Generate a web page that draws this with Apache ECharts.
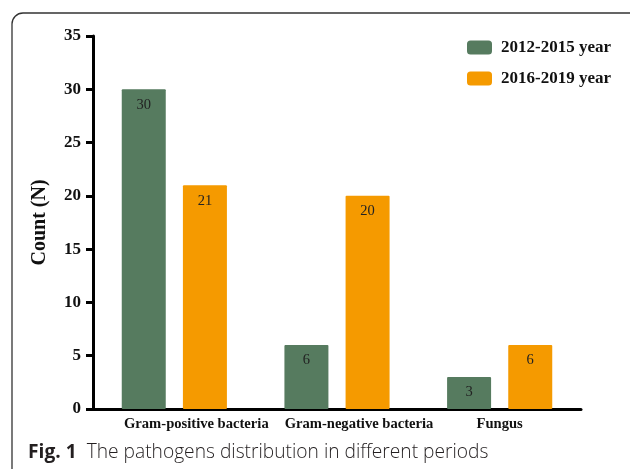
<!DOCTYPE html>
<html>
<head>
<meta charset="utf-8">
<script src="https://cdn.jsdelivr.net/npm/echarts@6/dist/echarts.min.js"></script>
<style>
  html, body { margin: 0; padding: 0; background: #fff; }
  #main { width: 630px; height: 469px; }
</style>
</head>
<body>
<div id="main"></div>
<script>
// categories and counts
var categories = ['Gram-positive bacteria', 'Gram-negative bacteria', 'Fungus'];
var period1 = [30, 6, 3];   // 2012-2015 year
var period2 = [21, 20, 6];  // 2016-2019 year
var seriesNames = ['2012-2015 year', '2016-2019 year'];

var serif = '"Liberation Serif", "DejaVu Serif", serif';

var myChart = echarts.init(document.getElementById('main'));

var barLabel = {
    show: true,
    position: 'insideTop',
    distance: 8,
    color: '#222',
    fontFamily: serif,
    fontSize: 14.5
};

var catText = { fontFamily: serif, fontWeight: 'bold', fontSize: 14.6, color: '#111' };

var option = {
    animation: false,
    backgroundColor: '#fff',
    title: {
        left: 28,
        top: 443,
        padding: 0,
        text: '{b|Fig. 1}  {n|The pathogens distribution in different periods}',
        textStyle: {
            rich: {
                b: { fontFamily: '"Open Sans", "Noto Sans", sans-serif', fontWeight: 'bold', fontSize: 19.2, color: '#231f20' },
                n: { fontFamily: '"Open Sans", "Noto Sans", sans-serif', fontWeight: 300, fontSize: 19.2, color: '#231f20' }
            }
        }
    },
    graphic: [{
        type: 'rect',
        shape: { x: 12, y: 13, width: 660, height: 500, r: 11 },
        style: { fill: 'none', stroke: '#333', lineWidth: 1.3 },
        silent: true
    }],
    legend: {
        orient: 'vertical',
        left: 462,
        top: 34,
        itemWidth: 25,
        itemHeight: 14,
        itemGap: 14,
        icon: 'roundRect',
        textStyle: { fontFamily: serif, fontWeight: 'bold', fontSize: 17, color: '#111', padding: [0, 0, 0, 4] },
        data: seriesNames
    },
    grid: { left: 93, right: 49, top: 36, bottom: 60 },
    xAxis: {
        type: 'category',
        data: categories,
        axisLine: { lineStyle: { color: '#000', width: 3 } },
        axisTick: { alignWithLabel: true, length: 6, lineStyle: { color: '#000', width: 3 } },
        axisLabel: {
            interval: 0,
            margin: 8,
            // the first two labels sit a little right of their ticks in the original
            formatter: function (value, index) {
                return index < 2 ? '{s|' + value + '}' : '{c|' + value + '}';
            },
            rich: {
                s: Object.assign({ padding: [0, 0, 0, 44] }, catText),
                c: catText
            }
        }
    },
    yAxis: {
        type: 'value',
        min: 0,
        max: 35,
        interval: 5,
        name: 'Count (N)',
        nameLocation: 'middle',
        nameGap: 43,
        nameTextStyle: { fontFamily: serif, fontWeight: 'bold', fontSize: 20, color: '#111' },
        splitLine: { show: false },
        axisLine: { show: true, lineStyle: { color: '#000', width: 3 } },
        axisTick: { show: true, length: 7, lineStyle: { color: '#000', width: 3 } },
        axisLabel: { fontFamily: serif, fontWeight: 'bold', fontSize: 17, color: '#111', margin: 12 }
    },
    series: [{
        name: seriesNames[0],
        type: 'bar',
        data: period1,
        barWidth: 44,
        barGap: '39%',
        itemStyle: { color: '#567b5f', borderRadius: 1 },
        label: barLabel
    }, {
        name: seriesNames[1],
        type: 'bar',
        data: period2,
        barWidth: 44,
        barGap: '39%',
        itemStyle: { color: '#f59a00', borderRadius: 1 },
        label: barLabel
    }]
};
myChart.setOption(option);
</script>
</body>
</html>
